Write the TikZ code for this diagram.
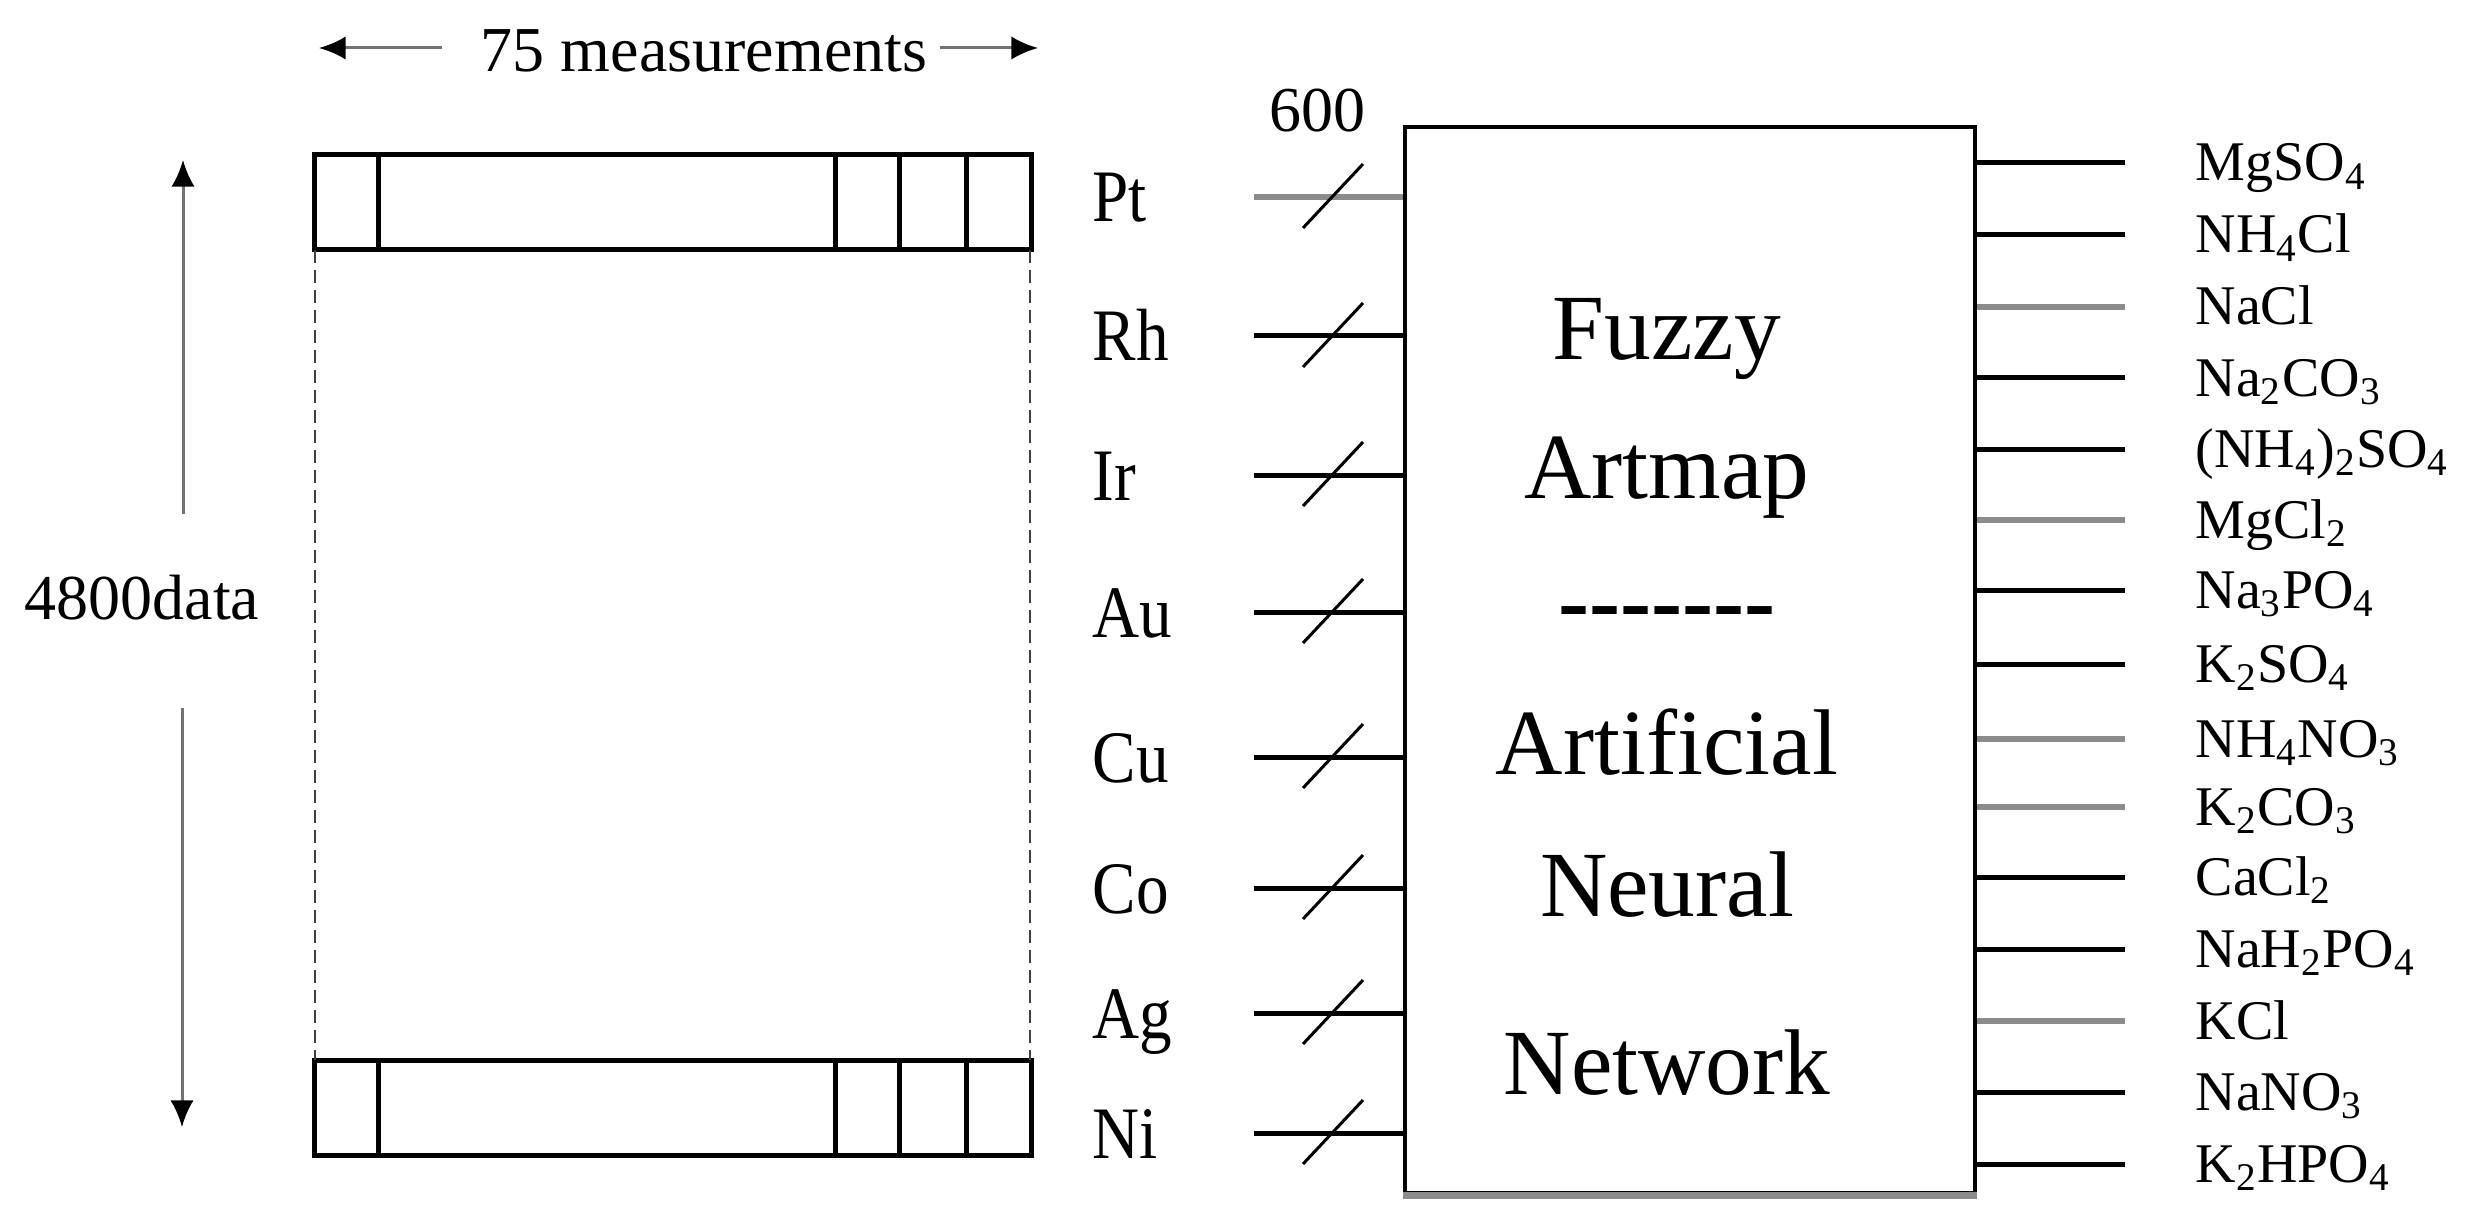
\documentclass[tikz,border=0pt]{standalone}
\usepackage{fontspec}
\setmainfont{Liberation Serif}
\newfontfamily\condfont[FakeStretch=0.88]{Liberation Serif}
\usetikzlibrary{arrows.meta}
\newcommand\hyph{\mbox{-}}
\definecolor{wiregray}{gray}{0.55}
\begin{document}
\begin{tikzpicture}[x=0.3pt,y=-0.3pt,
 elem/.style={font=\condfont\fontsize{22.2}{24}\selectfont, anchor=base west, inner sep=0pt},
 outl/.style={font=\fontsize{16.8}{18}\selectfont, anchor=base west, inner sep=0pt},
 big/.style={font=\fontsize{28}{30}\selectfont, anchor=base, inner sep=0pt},
 small/.style={font=\fontsize{19.2}{21}\selectfont, inner sep=0pt},
 wire/.style={line width=1.5pt},
 graywire/.style={line width=1.8pt, wiregray},
 slashl/.style={line width=0.9pt},
 cell/.style={line width=1.5pt},
 guide/.style={line width=0.6pt, dash pattern=on 4pt off 2pt, black!75},
 dim/.style={line width=0.9pt, black!55, -{Latex[length=8pt,width=7pt,color=black]}}
]
\useasboundingbox (0,0) rectangle (2485,1224);

% data strips
\draw[cell] (314,155) rectangle (1031,250);
\foreach \xx in {378,835,899,966} \draw[cell] (\xx,155) -- (\xx,250);
\draw[cell] (314,1060) rectangle (1031,1155);
\foreach \xx in {378,835,899,966} \draw[cell] (\xx,1060) -- (\xx,1155);
\draw[guide] (315,250) -- (315,1060);
\draw[guide] (1030,250) -- (1030,1060);

% 75 measurements
\node[small, anchor=base] (meas) at (704,72) {75 measurements};
\coordinate (mlA) at (442,48);
\coordinate (mlT) at (319,48);
\coordinate (mrA) at (940,48);
\coordinate (mrT) at (1038,48);
\draw[dim] (mlA) -- (mlT);
\draw[dim] (mrA) -- (mrT);

% 4800data
\node[small, anchor=base west] (data) at (24,619) {4800data};
\coordinate (vuA) at (183,514);
\coordinate (vuT) at (183,160);
\coordinate (vdA) at (182,708);
\coordinate (vdT) at (182,1127);
\draw[dim] (vuA) -- (vuT);
\draw[dim] (vdA) -- (vdT);

% network box
\node[draw, line width=1.3pt, minimum width=171pt, minimum height=319.8pt, inner sep=0pt] (fann) at (1690,660) {};
\draw[line width=2pt, wiregray] (fann.south west) -- (fann.south east);
\node[big] (t1) at (1667,360) {Fuzzy};
\node[big] (t2) at (1667,498) {Artmap};
\node[big] (t3) at (1667,632) {\textbf{\hyph\hyph\hyph\hyph\hyph\hyph\hyph}};
\node[big] (t4) at (1667,774) {Artificial};
\node[big] (t5) at (1667,916) {Neural};
\node[big] (t6) at (1667,1094) {Network};

\node[small] (six) at (1317,111) {600};

% inputs
\foreach \el/\yy/\st [count=\i] in {Pt/197/graywire,Rh/336/wire,Ir/475/wire,Au/612/wire,Cu/757/wire,Co/888/wire,Ag/1013/wire,Ni/1133/wire}{
  \node[elem] (el\i) at (1092,\yy+25) {\el};
  \coordinate (in\i) at (1254,\yy);
  \draw[\st] (in\i) -- (in\i -| fann.west);
  \coordinate (sa\i) at (1303,\yy+31);
  \coordinate (sb\i) at (1363,\yy-33);
  \draw[slashl] (sa\i) -- (sb\i);
}

% outputs
\foreach \t/\yy/\st [count=\i] in {
  {MgSO\textsubscript{4}}/163/wire,
  {NH\textsubscript{4}Cl}/235/wire,
  {NaCl}/307/graywire,
  {Na\textsubscript{2}CO\textsubscript{3}}/378/wire,
  {(NH\textsubscript{4})\textsubscript{2}SO\textsubscript{4}}/449/wire,
  {MgCl\textsubscript{2}}/520/graywire,
  {Na\textsubscript{3}PO\textsubscript{4}}/590/wire,
  {K\textsubscript{2}SO\textsubscript{4}}/664/wire,
  {NH\textsubscript{4}NO\textsubscript{3}}/739/graywire,
  {K\textsubscript{2}CO\textsubscript{3}}/807/graywire,
  {CaCl\textsubscript{2}}/877/wire,
  {NaH\textsubscript{2}PO\textsubscript{4}}/949/wire,
  {KCl}/1021/graywire,
  {NaNO\textsubscript{3}}/1092/wire,
  {K\textsubscript{2}HPO\textsubscript{4}}/1164/wire}{
  \coordinate (oe\i) at (2125,\yy);
  \draw[\st] (fann.east |- oe\i) -- (oe\i);
  \node[outl] (ol\i) at (2195,\yy+18) {\t};
}
\end{tikzpicture}
\end{document}
